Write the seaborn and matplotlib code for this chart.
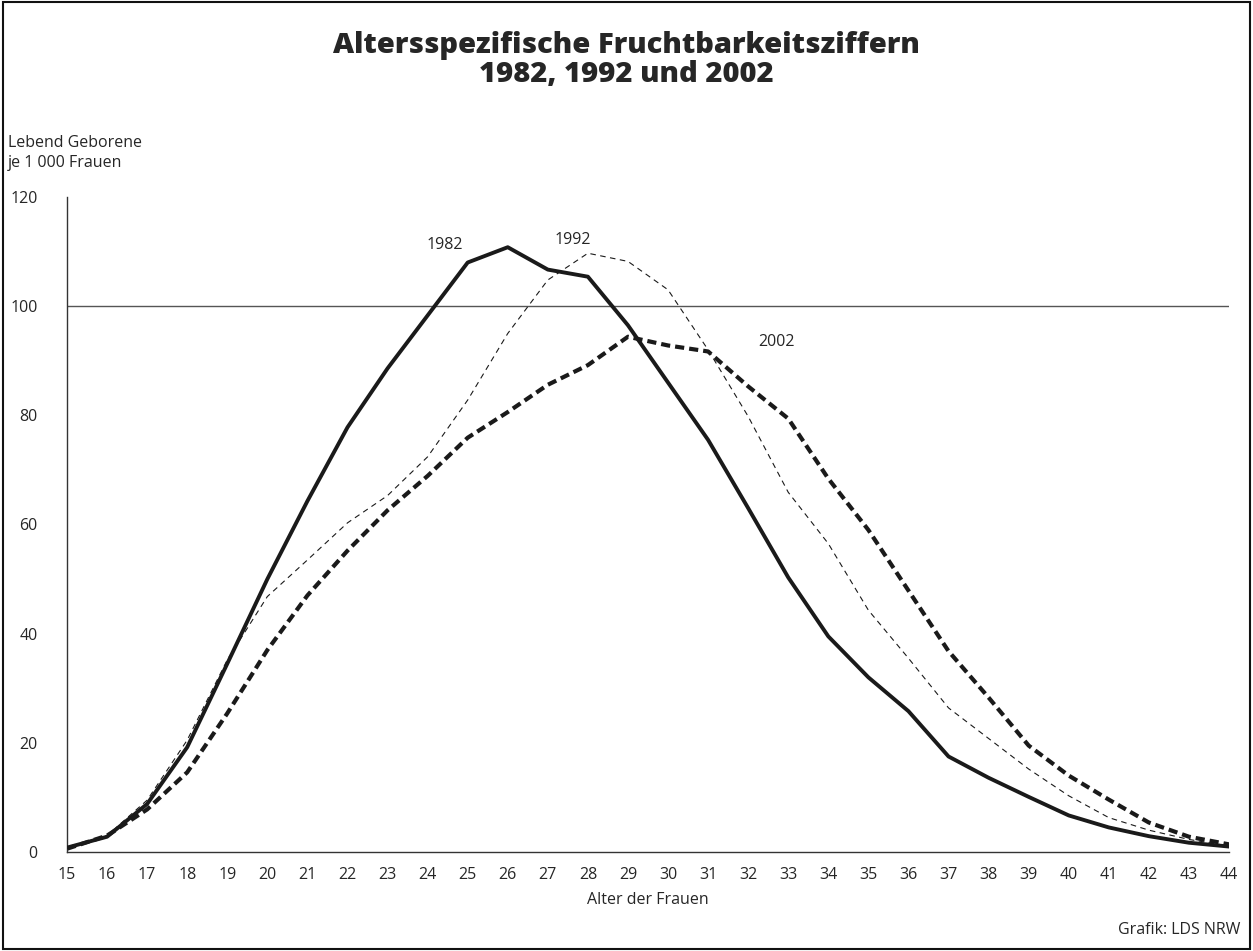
import matplotlib
matplotlib.use("Agg")
import matplotlib.pyplot as plt
import seaborn as sns
import pandas as pd

ages = list(range(15, 45))
rate_1982 = [0.8, 2.8, 8.8, 19.2, 34.5, 50.0, 64.3, 77.8, 88.6, 98.3, 108.0, 110.8,
             106.7, 105.4, 96.5, 86.0, 75.5, 63.0, 50.3, 39.5, 32.0, 25.8, 17.5, 13.6,
             10.1, 6.7, 4.5, 2.9, 1.7, 1.0]
rate_1992 = [0.8, 3.0, 9.5, 20.5, 35.2, 46.8, 53.5, 60.3, 65.3, 72.4, 82.8, 95.0,
             104.8, 109.7, 108.2, 103.0, 92.0, 79.8, 65.9, 56.5, 44.3, 35.5, 26.4, 20.8,
             15.2, 10.3, 6.3, 4.0, 2.3, 1.1]
rate_2002 = [0.6, 3.0, 7.8, 14.6, 25.4, 37.0, 47.0, 55.2, 62.6, 68.9, 75.9, 80.6,
             85.6, 89.2, 94.4, 92.8, 91.7, 85.3, 79.4, 68.4, 59.0, 47.9, 36.8, 28.3,
             19.5, 14.0, 9.6, 5.4, 2.8, 1.4]
y_ticks = [0, 20, 40, 60, 80, 100, 120]

df = pd.DataFrame({"Alter": ages, "1982": rate_1982, "1992": rate_1992, "2002": rate_2002})

sns.set_style("white")
plt.rcParams["font.family"] = ["Open Sans", "DejaVu Sans"]

fig = plt.figure(figsize=(12.53, 9.51), dpi=100)
ax = fig.add_axes([67 / 1253, 1 - 852 / 951, (1229 - 67) / 1253, (852 - 197) / 951])

ax.axhline(100, color="#555555", lw=1.0, zorder=1)

sns.lineplot(data=df, x="Alter", y="1982", ax=ax, color="#1a1a1a", lw=2.8, zorder=3)
sns.lineplot(data=df, x="Alter", y="1992", ax=ax, color="#1a1a1a", lw=0.8,
             linestyle=(0, (5, 4)), zorder=2)
sns.lineplot(data=df, x="Alter", y="2002", ax=ax, color="#1a1a1a", lw=3.0,
             linestyle=(0, (2.2, 1.2)), zorder=2)

ax.set_xlim(15, 44)
ax.set_ylim(0, 120)
ax.set_xticks(ages)
ax.set_xticklabels([str(a) for a in ages], fontsize=11.5)
ax.set_yticks(y_ticks)
ax.set_yticklabels([str(v) for v in y_ticks], fontsize=11.5)
ax.tick_params(axis="both", direction="out", length=7, width=1, color="#333333")
ax.tick_params(axis="x", pad=4)
ax.tick_params(axis="y", pad=14)
ax.set_xlabel("Alter der Frauen", fontsize=11.5, labelpad=6)
ax.set_ylabel("")
for side in ["top", "right"]:
    ax.spines[side].set_visible(False)
for side in ["left", "bottom"]:
    ax.spines[side].set_color("#333333")
    ax.spines[side].set_linewidth(1.0)

ax.text(24.43, 111.2, "1982", fontsize=11.5, ha="center", va="center")
ax.text(27.63, 112.1, "1992", fontsize=11.5, ha="center", va="center")
ax.text(32.7, 93.5, "2002", fontsize=11.5, ha="center", va="center")

fig.text(626 / 1253, 1 - 60 / 951, "Altersspezifische Fruchtbarkeitsziffern\n1982, 1992 und 2002",
         ha="center", va="center", fontsize=21, fontweight="heavy", linespacing=1.0)
fig.text(8 / 1253, 1 - 153 / 951, "Lebend Geborene\nje 1 000 Frauen", ha="left", va="center",
         fontsize=11.5, linespacing=1.3)
fig.text(1240 / 1253, 1 - 930 / 951, "Grafik: LDS NRW", ha="right", va="center", fontsize=11.5)

fig.patches.append(plt.Rectangle((0.002, 0.002), 0.996, 0.996, transform=fig.transFigure,
                                 fill=False, edgecolor="#111111", lw=1.5))

fig.savefig("out.png", dpi=100)
